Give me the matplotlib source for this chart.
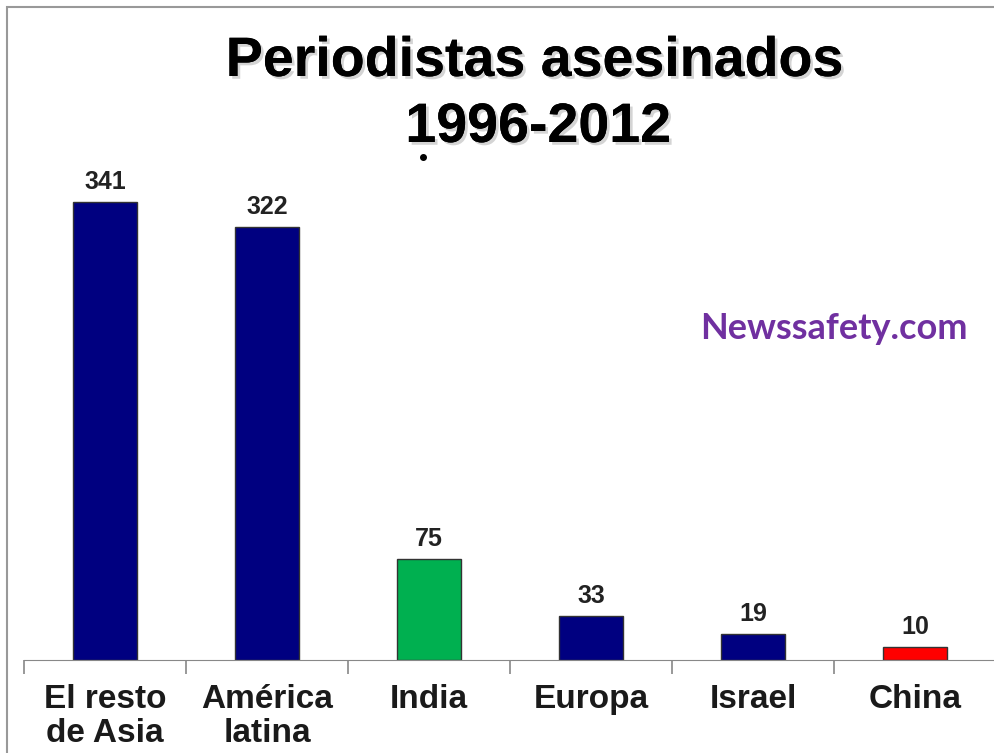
import matplotlib
matplotlib.use('Agg')
import matplotlib.pyplot as plt
import matplotlib.patheffects as pe
from matplotlib.patches import Rectangle
from matplotlib.lines import Line2D

categories = ["El resto\nde Asia", "América\nlatina", "India", "Europa", "Israel", "China"]
values = [341, 322, 75, 33, 19, 10]
colors = ["#000080", "#000080", "#00B050", "#000080", "#000080", "#FF0000"]

plt.rcParams['font.family'] = ['Liberation Sans', 'DejaVu Sans']

fig = plt.figure(figsize=(9.94, 7.53), dpi=100)
ax = fig.add_axes([24 / 994, 1 - 660 / 753, 972 / 994, 653 / 753])

x = range(len(values))
bars = ax.bar(x, values, width=0.4, color=colors, edgecolor='#333333', linewidth=1)
for b, v in zip(bars, values):
    ax.text(b.get_x() + b.get_width() / 2, v + 6, str(v), ha='center', va='bottom',
            fontsize=18, fontweight='bold', color='#222222')

ax.set_xlim(-0.5, len(values) - 0.5)
ax.set_ylim(0, 486)
for s in ['top', 'right', 'left']:
    ax.spines[s].set_visible(False)
ax.spines['bottom'].set_color('#888888')
ax.set_yticks([])
ax.set_xticks([i - 0.5 for i in range(len(values) + 1)])
ax.set_xticklabels([])
ax.tick_params(axis='x', direction='out', length=10, color='#888888', width=1.2)
for i, c in enumerate(categories):
    ax.text(i, -18, c, ha='center', va='top', fontsize=24, fontweight='bold',
            color='#1a1a1a', linespacing=1.1, clip_on=False)

shadow = [pe.withSimplePatchShadow(offset=(2, -2), shadow_rgbFace='#aaaaaa', alpha=0.5), pe.Normal()]
fig.text(534 / 994, 1 - 62 / 753, "Periodistas asesinados", ha='center', va='center',
         fontsize=40, fontweight='bold', color='black', path_effects=shadow)
fig.text(538 / 994, 1 - 128 / 753, "1996-2012", ha='center', va='center',
         fontsize=40, fontweight='bold', color='black', path_effects=shadow)
fig.add_artist(Line2D([423 / 994], [1 - 157 / 753], marker='o', markersize=4,
                      color='black', transform=fig.transFigure))

fig.text(834 / 994, 1 - 328 / 753, "Newssafety.com", ha='center', va='center',
         fontsize=26, fontweight='bold', color='#7030A0', family=['Lato', 'DejaVu Sans'])

fig.patches.append(Rectangle((7 / 994, -0.1), 1.2, 1 - 7 / 753 + 0.1, transform=fig.transFigure,
                             fill=False, edgecolor='#999999', linewidth=1.5))

fig.savefig('out.png', dpi=100)
